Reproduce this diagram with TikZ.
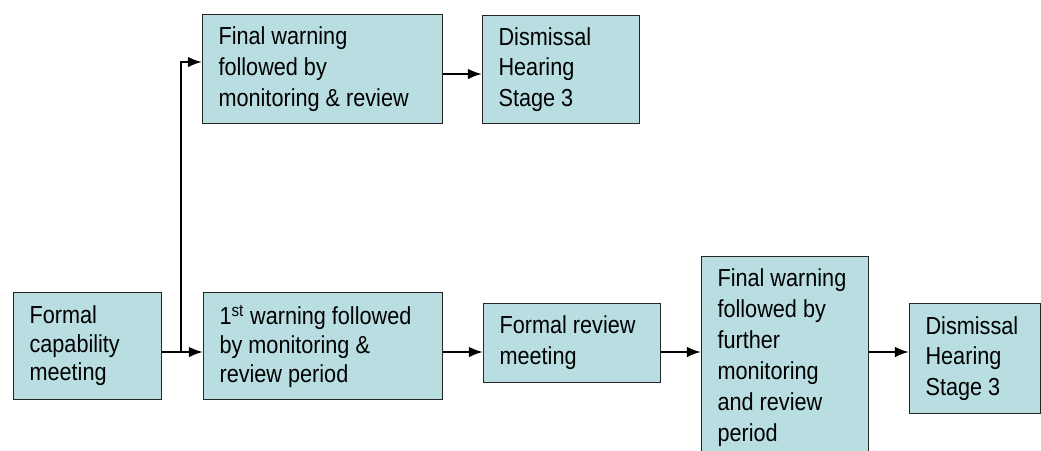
\documentclass[tikz,border=0pt]{standalone}
\usepackage{fontspec}
\setmainfont{Liberation Sans}[FakeStretch=0.88]
\usetikzlibrary{arrows.meta}
\tikzset{>={Latex[length=10pt,width=7.5pt]}}
\definecolor{clb}{RGB}{184,222,226}
\definecolor{cld}{gray}{.15}

\begin{document}
\begin{tikzpicture}[x=0.025cm, y=-0.025cm,
    box/.style={draw=cld, line width=0.8pt, fill=clb, anchor=north west,
        align=flush left, inner xsep=0.4cm, inner ysep=0pt,
        font=\fontsize{17.5}{20.3}\selectfont},
    loose/.style={font=\fontsize{17.5}{22}\selectfont},
    flow/.style={->, line width=1.4pt}]
    \useasboundingbox (0, 0) rectangle (1041, 450);
    % lower row
    \node[box, text width=2.9cm, minimum height=2.675cm](fcm) at (13, 292)
        {Formal\\capability\\meeting};
    \node[box, text width=5.175cm, minimum height=2.675cm](fw1) at (203, 292)
        {1\textsuperscript{st} warning followed\\by monitoring \&\\review period};
    \node[box, loose, text width=3.625cm, minimum height=1.975cm](frm) at (483, 303)
        {Formal review\\meeting};
    \node[box, loose, text width=3.375cm, minimum height=5.05cm](fw2) at (701, 256)
        {Final warning\\followed by\\further\\monitoring\\and review\\period};
    \node[box, loose, text width=2.475cm, minimum height=2.75cm](dhl) at (909, 303)
        {Dismissal\\Hearing\\Stage 3};
    % upper row
    \node[box, loose, text width=5.2cm, minimum height=2.725cm](fwt) at (202, 14)
        {Final warning\\followed by\\monitoring \& review};
    \node[box, loose, text width=3.125cm, minimum height=2.7cm](dht) at (482, 15)
        {Dismissal\\Hearing\\Stage 3};
    % connectors
    \coordinate(row) at (0, 352);
    \coordinate(br) at (181, 352);
    \coordinate(tp) at (181, 62);
    \coordinate(top) at (0, 74);
    \draw[flow](fcm.east |- row)--(fw1.west |- row);
    \draw[flow](br)--(tp)--(fwt.west |- tp);
    \draw[flow](fwt.east |- top)--(dht.west |- top);
    \draw[flow](fw1.east |- row)--(frm.west |- row);
    \draw[flow](frm.east |- row)--(fw2.west |- row);
    \draw[flow](fw2.east |- row)--(dhl.west |- row);
\end{tikzpicture}
\end{document}
